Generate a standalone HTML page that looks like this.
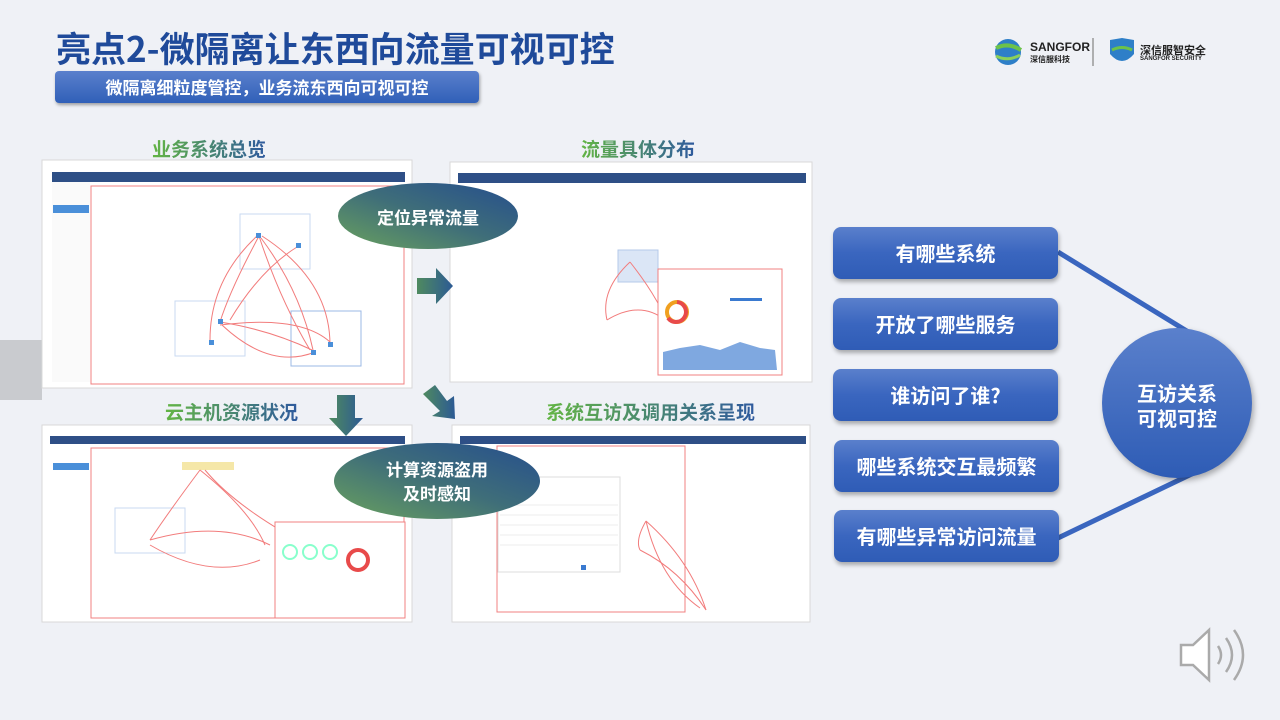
<!DOCTYPE html>
<html><head><meta charset="utf-8"><style>
*{margin:0;padding:0}
body{width:1280px;height:720px;overflow:hidden;background:#eff1f6;font-family:"Liberation Sans","Noto Sans CJK SC",sans-serif;position:relative}
.t{position:absolute;font-weight:bold;white-space:nowrap}
.btn{position:absolute;left:833px;width:225px;height:52px;border-radius:8px;background:linear-gradient(#5a80cc,#3a66bf 50%,#2f5cb6);color:#fff;font-weight:bold;font-size:20px;line-height:52px;text-align:center;box-shadow:1px 3px 4px rgba(0,0,0,.3);font-family:"Noto Sans CJK SC",sans-serif}
.sec{position:absolute;font-weight:bold;font-size:19px;font-family:"Noto Sans CJK SC",sans-serif;background:linear-gradient(90deg,#63b544,#2f5a9e);-webkit-background-clip:text;background-clip:text;color:transparent;white-space:nowrap}
</style></head><body>
<svg width="1280" height="720" style="position:absolute;left:0;top:0">
<defs>
<linearGradient id="ell" x1="0" y1="1" x2="1" y2="0"><stop offset="0" stop-color="#6aa25e"/><stop offset=".5" stop-color="#3f6e79"/><stop offset="1" stop-color="#254e8e"/></linearGradient>
<linearGradient id="arr" x1="0" y1="0" x2="1" y2="0"><stop offset="0" stop-color="#4f8a5f"/><stop offset="1" stop-color="#2c5a94"/></linearGradient>
<linearGradient id="cir" x1="0" y1="0" x2="0" y2="1"><stop offset="0" stop-color="#5a80cc"/><stop offset="1" stop-color="#2e5cb5"/></linearGradient>
</defs>
<polygon points="0,340 42,340 42,400 0,400" fill="#c9cbcf"/>
<line x1="1058" y1="252" x2="1190" y2="333" stroke="#3a66bf" stroke-width="5"/>
<line x1="1058" y1="538" x2="1200" y2="470" stroke="#3a66bf" stroke-width="5"/>
<!-- panel 1 -->
<g>
<rect x="42" y="160" width="370" height="228" fill="#fff" stroke="#d8d8d8"/>
<rect x="52" y="172" width="353" height="10" fill="#2e4f86"/>
<rect x="52" y="182" width="38" height="200" fill="#fafafa"/>
<rect x="53" y="205" width="36" height="8" fill="#4a8fd9"/>
<rect x="91" y="186" width="313" height="198" fill="none" stroke="#f08080"/>
<rect x="240" y="214" width="70" height="55" fill="none" stroke="#c8daf2"/>
<rect x="175" y="301" width="70" height="55" fill="none" stroke="#c8daf2"/>
<rect x="291" y="311" width="70" height="55" fill="none" stroke="#9bb8e6"/>
<g stroke="#f27c7c" fill="none" stroke-width="1">
<path d="M259,236 Q230,290 220,322"/><path d="M261,238 Q300,290 313,350"/><path d="M220,322 Q270,330 312,350"/><path d="M222,325 Q270,370 315,352"/><path d="M257,236 Q210,280 210,340"/><path d="M262,236 Q330,280 330,345"/><path d="M230,320 Q260,270 297,247"/><path d="M220,325 Q300,315 330,342"/><path d="M259,236 Q280,300 310,350"/>
</g>
<g fill="#4a8fd9"><rect x="256" y="233" width="5" height="5"/><rect x="218" y="319" width="5" height="5"/><rect x="311" y="350" width="5" height="5"/><rect x="296" y="243" width="5" height="5"/><rect x="209" y="340" width="5" height="5"/><rect x="328" y="342" width="5" height="5"/></g>
</g>
<!-- panel 2 -->
<g>
<rect x="450" y="162" width="362" height="220" fill="#fff" stroke="#d8d8d8"/>
<rect x="458" y="173" width="348" height="10" fill="#2e4f86"/>
<rect x="618" y="250" width="40" height="32" fill="#dbe6f6" stroke="#b5c9ea"/>
<g stroke="#f27c7c" fill="none"><path d="M630,262 Q600,290 607,320"/><path d="M630,262 Q660,300 670,330"/><path d="M607,320 Q640,300 665,320"/></g>
<rect x="658" y="269" width="124" height="106" fill="#fff" stroke="#f08080"/>
<circle cx="677" cy="312" r="10" fill="none" stroke="#f0a020" stroke-width="4"/>
<path d="M677,302 A10,10 0 1 1 668,318" fill="none" stroke="#e84a4a" stroke-width="4"/>
<rect x="730" y="298" width="32" height="3" fill="#3a7ad0"/>
<path d="M663,370 L663,352 L680,348 L700,345 L720,350 L740,342 L760,348 L775,350 L777,370 Z" fill="#7fa8e0"/>
</g>
<!-- panel 3 -->
<g>
<rect x="42" y="425" width="370" height="197" fill="#fff" stroke="#d8d8d8"/>
<rect x="50" y="436" width="355" height="8" fill="#2e4f86"/>
<rect x="53" y="463" width="36" height="7" fill="#4a8fd9"/>
<rect x="91" y="448" width="313" height="170" fill="none" stroke="#f08080"/>
<rect x="115" y="508" width="70" height="45" fill="none" stroke="#c8daf2"/>
<rect x="182" y="462" width="52" height="8" fill="#f5e7a8"/>
<g stroke="#f27c7c" fill="none"><path d="M200,470 Q170,510 150,540"/><path d="M200,470 Q250,510 265,545"/><path d="M150,540 Q220,520 270,545"/><path d="M205,470 Q230,500 280,530"/><path d="M150,545 Q210,580 260,560"/></g>
<rect x="275" y="522" width="130" height="96" fill="#fff" stroke="#f08080"/>
<circle cx="290" cy="552" r="7" fill="none" stroke="#8fc" stroke-width="2"/><circle cx="310" cy="552" r="7" fill="none" stroke="#8fc" stroke-width="2"/><circle cx="330" cy="552" r="7" fill="none" stroke="#8fc" stroke-width="2"/>
<circle cx="358" cy="560" r="10" fill="none" stroke="#e84a4a" stroke-width="4"/>
</g>
<!-- panel 4 -->
<g>
<rect x="452" y="425" width="358" height="197" fill="#fff" stroke="#d8d8d8"/>
<rect x="460" y="436" width="346" height="8" fill="#2e4f86"/>
<rect x="497" y="446" width="188" height="166" fill="none" stroke="#f08080"/>
<rect x="498" y="477" width="122" height="95" fill="#fff" stroke="#ddd"/>
<g stroke="#eee"><line x1="500" y1="505" x2="618" y2="505"/><line x1="500" y1="515" x2="618" y2="515"/><line x1="500" y1="525" x2="618" y2="525"/><line x1="500" y1="535" x2="618" y2="535"/><line x1="500" y1="545" x2="618" y2="545"/></g>
<rect x="581" y="565" width="5" height="5" fill="#3a7ad0"/>
<g stroke="#f27c7c" fill="none"><path d="M646,521 Q690,560 706,610"/><path d="M646,521 Q660,580 700,608"/><path d="M640,550 Q680,570 706,610"/><path d="M646,521 Q635,540 640,550"/></g>
</g>
<ellipse cx="428" cy="216" rx="90" ry="33" fill="url(#ell)"/>
<ellipse cx="437" cy="481" rx="103" ry="38" fill="url(#ell)"/>
<polygon points="417,278 436,278 436,268 453,286 436,304 436,294 417,294" fill="url(#arr)"/>
<polygon points="337,395 355,395 355,418 363,418 346,436 329,418 337,418" fill="url(#arr)"/>
<polygon points="423,394 435,385 447,401 454,396 455,419 432,416 440,411" fill="url(#arr)"/>
<circle cx="1177" cy="403" r="75" fill="url(#cir)" style="filter:drop-shadow(2px 3px 3px rgba(0,0,0,.3))"/>
<circle cx="1008" cy="52" r="13" fill="#2e7fc8"/><path d="M996,48 Q1008,42 1021,50" stroke="#6cc24a" stroke-width="4" fill="none"/><path d="M996,56 Q1008,62 1020,55" stroke="#8bd05a" stroke-width="3" fill="none"/>
<line x1="1093" y1="38" x2="1093" y2="66" stroke="#999" stroke-width="1.5"/>
<path d="M1110,40 L1122,38 L1134,40 L1134,54 Q1122,68 1110,54 Z" fill="#2e7fc8"/><path d="M1112,50 Q1122,45 1132,50" stroke="#6cc24a" stroke-width="3" fill="none"/>
<g fill="none" stroke="#aaa" stroke-width="2.5"><path d="M1181,645 L1193,645 L1209,630 L1209,680 L1193,665 L1181,665 Z" fill="#fff"/><path d="M1218,646 Q1224,655 1218,664"/><path d="M1226,638 Q1238,655 1226,672"/><path d="M1234,630 Q1252,655 1234,680"/></g>
</svg>
<div class="t" style="left:56px;top:22px;font-size:35px;color:#1f4a9a;font-family:'Noto Sans CJK SC',sans-serif">亮点2-微隔离让东西向流量可视可控</div>
<div style="position:absolute;left:55px;top:71px;width:424px;height:32px;border-radius:4px;background:linear-gradient(#5a80cc,#3060b8);box-shadow:1px 2px 3px rgba(0,0,0,.35);color:#fff;font-weight:bold;font-size:17px;line-height:32px;text-align:center;font-family:'Noto Sans CJK SC',sans-serif">微隔离细粒度管控，业务流东西向可视可控</div>
<div class="t" style="left:1030px;top:40px;font-size:12px;color:#222">SANGFOR</div>
<div class="t" style="left:1030px;top:54px;font-size:8px;color:#222;font-family:'Noto Sans CJK SC',sans-serif">深信服科技</div>
<div class="t" style="left:1140px;top:42px;font-size:11px;color:#222;font-family:'Noto Sans CJK SC',sans-serif">深信服智安全</div>
<div class="t" style="left:1140px;top:56px;font-size:6px;color:#222">SANGFOR SECURITY</div>
<div class="sec" style="left:152px;top:135px">业务系统总览</div>
<div class="sec" style="left:581px;top:135px">流量具体分布</div>
<div class="sec" style="left:165px;top:398px">云主机资源状况</div>
<div class="sec" style="left:546px;top:398px">系统互访及调用关系呈现</div>
<div class="t" style="left:338px;top:204px;width:180px;text-align:center;color:#fff;font-size:17px;font-family:'Noto Sans CJK SC',sans-serif">定位异常流量</div>
<div class="t" style="left:335px;top:457px;width:204px;text-align:center;color:#fff;font-size:17px;line-height:24px;font-family:'Noto Sans CJK SC',sans-serif">计算资源盗用<br>及时感知</div>
<div class="btn" style="top:227px">有哪些系统</div>
<div class="btn" style="top:298px">开放了哪些服务</div>
<div class="btn" style="top:369px">谁访问了谁?</div>
<div class="btn" style="top:440px;left:834px">哪些系统交互最频繁</div>
<div class="btn" style="top:510px;left:834px">有哪些异常访问流量</div>
<div class="t" style="left:1102px;top:380px;width:150px;text-align:center;color:#fff;font-size:20px;line-height:25px;font-family:'Noto Sans CJK SC',sans-serif">互访关系<br>可视可控</div>
</body></html>
